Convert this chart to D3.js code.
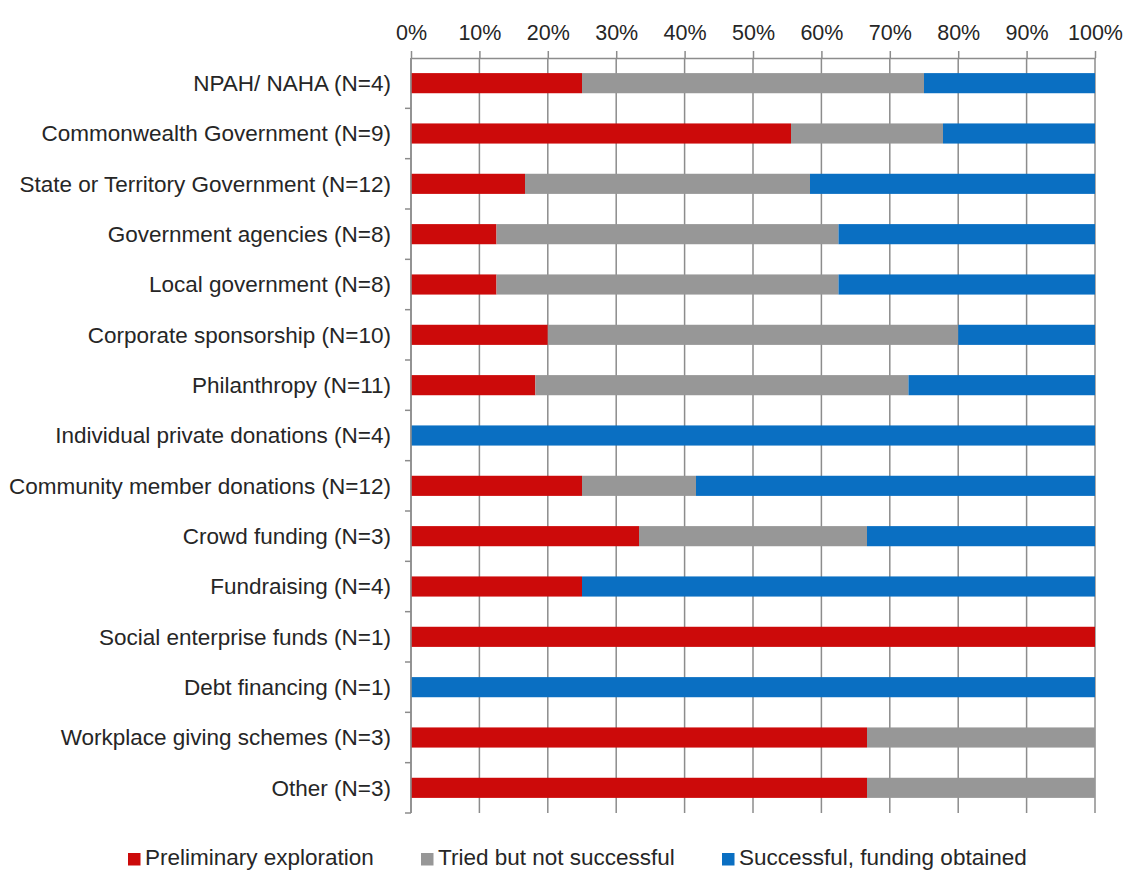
<!DOCTYPE html>
<html>
<head>
<meta charset="utf-8">
<script src="https://cdn.jsdelivr.net/npm/d3@7"></script>
<style>
  html, body { margin: 0; padding: 0; background: #fff; }
  svg { display: block; font-family: "Liberation Sans", Arial, sans-serif; }
</style>
</head>
<body>
<svg id="chart" width="1126" height="870"></svg>
<script>
// Funding sources and response counts (shares of N for each source)
const categories = [
  "NPAH/ NAHA (N=4)",
  "Commonwealth Government (N=9)",
  "State or Territory Government (N=12)",
  "Government agencies (N=8)",
  "Local government (N=8)",
  "Corporate sponsorship (N=10)",
  "Philanthropy (N=11)",
  "Individual private donations (N=4)",
  "Community member donations (N=12)",
  "Crowd funding (N=3)",
  "Fundraising (N=4)",
  "Social enterprise funds (N=1)",
  "Debt financing (N=1)",
  "Workplace giving schemes (N=3)",
  "Other (N=3)"
];
const preliminary = [1/4, 5/9, 2/12, 1/8, 1/8, 2/10, 2/11, 0, 3/12, 1/3, 1/4, 1, 0, 2/3, 2/3];
const triedNotSuccessful = [2/4, 2/9, 5/12, 4/8, 4/8, 6/10, 6/11, 0, 2/12, 1/3, 0, 0, 0, 1/3, 1/3];
const successful = [1/4, 2/9, 5/12, 3/8, 3/8, 2/10, 3/11, 1, 7/12, 1/3, 3/4, 0, 1, 0, 0];

const seriesNames = ["Preliminary exploration", "Tried but not successful", "Successful, funding obtained"];
const seriesColors = ["#cc0a0a", "#979797", "#0a6fc2"];
const tickValues = [0, 0.1, 0.2, 0.3, 0.4, 0.5, 0.6, 0.7, 0.8, 0.9, 1.0];

const svg = d3.select("#chart");
const plotLeft = 411, plotRight = 1095, plotTop = 58, plotBottom = 813;
const textColor = "#262626";
const lineColor = "#8c8c8c";

const x = d3.scaleLinear().domain([0, 1]).range([plotLeft, plotRight]);
const y = d3.scaleBand().domain(categories).range([plotTop, plotBottom]).paddingInner(0.6).paddingOuter(0.3);

const rows = categories.map((c, i) => ({
  cat: c,
  "0": preliminary[i],
  "1": triedNotSuccessful[i],
  "2": successful[i]
}));
const stacked = d3.stack().keys(["0", "1", "2"])(rows);

// Vertical gridlines
svg.append("g")
  .selectAll("line")
  .data(tickValues)
  .join("line")
  .attr("x1", d => x(d)).attr("x2", d => x(d))
  .attr("y1", plotTop).attr("y2", plotBottom)
  .attr("stroke", lineColor).attr("stroke-width", 1.5);

// Bars
svg.append("g")
  .selectAll("g")
  .data(stacked)
  .join("g")
  .attr("fill", (d, i) => seriesColors[i])
  .selectAll("rect")
  .data(d => d.filter(s => s[1] - s[0] > 0))
  .join("rect")
  .attr("x", d => x(d[0]))
  .attr("width", d => x(d[1]) - x(d[0]))
  .attr("y", d => y(d.data.cat))
  .attr("height", y.bandwidth());

// Top axis with percentage labels
const xAxis = svg.append("g")
  .attr("transform", `translate(0,${plotTop})`)
  .call(d3.axisTop(x).tickValues(tickValues).tickFormat(d3.format(".0%")).tickSize(7).tickSizeOuter(0));
xAxis.select(".domain").attr("stroke", lineColor).attr("stroke-width", 1.5);
xAxis.selectAll(".tick line").attr("stroke", lineColor).attr("stroke-width", 1.5);
xAxis.selectAll(".tick text")
  .attr("font-size", 21.5).attr("fill", textColor)
  .attr("font-family", "Liberation Sans, Arial, sans-serif")
  .attr("y", -26)
  .attr("dy", "0.35em");

// Left axis: vertical line with ticks at row boundaries
const boundaries = categories.map(c => y(c) - y.step() * y.paddingInner() / 2);
boundaries.push(plotBottom);
const yAxisG = svg.append("g");
yAxisG.append("line")
  .attr("x1", plotLeft).attr("x2", plotLeft).attr("y1", plotTop).attr("y2", plotBottom)
  .attr("stroke", lineColor).attr("stroke-width", 1.5);
yAxisG.selectAll("line.tk")
  .data(boundaries.slice(1))
  .join("line").attr("class", "tk")
  .attr("x1", plotLeft - 6).attr("x2", plotLeft)
  .attr("y1", d => d).attr("y2", d => d)
  .attr("stroke", lineColor).attr("stroke-width", 1.5);

// Category labels
svg.append("g")
  .selectAll("text")
  .data(categories)
  .join("text")
  .attr("x", 391)
  .attr("y", d => y(d) + y.bandwidth() / 2)
  .attr("dy", "0.35em")
  .attr("text-anchor", "end")
  .attr("font-size", 22.5)
  .attr("fill", textColor)
  .text(d => d);

// Legend along the bottom edge
const legendX = [128, 421, 722];
const legend = svg.append("g")
  .selectAll("g")
  .data(seriesNames)
  .join("g")
  .attr("transform", (d, i) => `translate(${legendX[i]},859)`);
legend.append("rect")
  .attr("x", 0).attr("y", -6).attr("width", 12.5).attr("height", 12.5)
  .attr("fill", (d, i) => seriesColors[i]);
legend.append("text")
  .attr("x", 17).attr("y", 6)
  .attr("font-size", 22.5).attr("fill", textColor)
  .text(d => d);
</script>
</body>
</html>
